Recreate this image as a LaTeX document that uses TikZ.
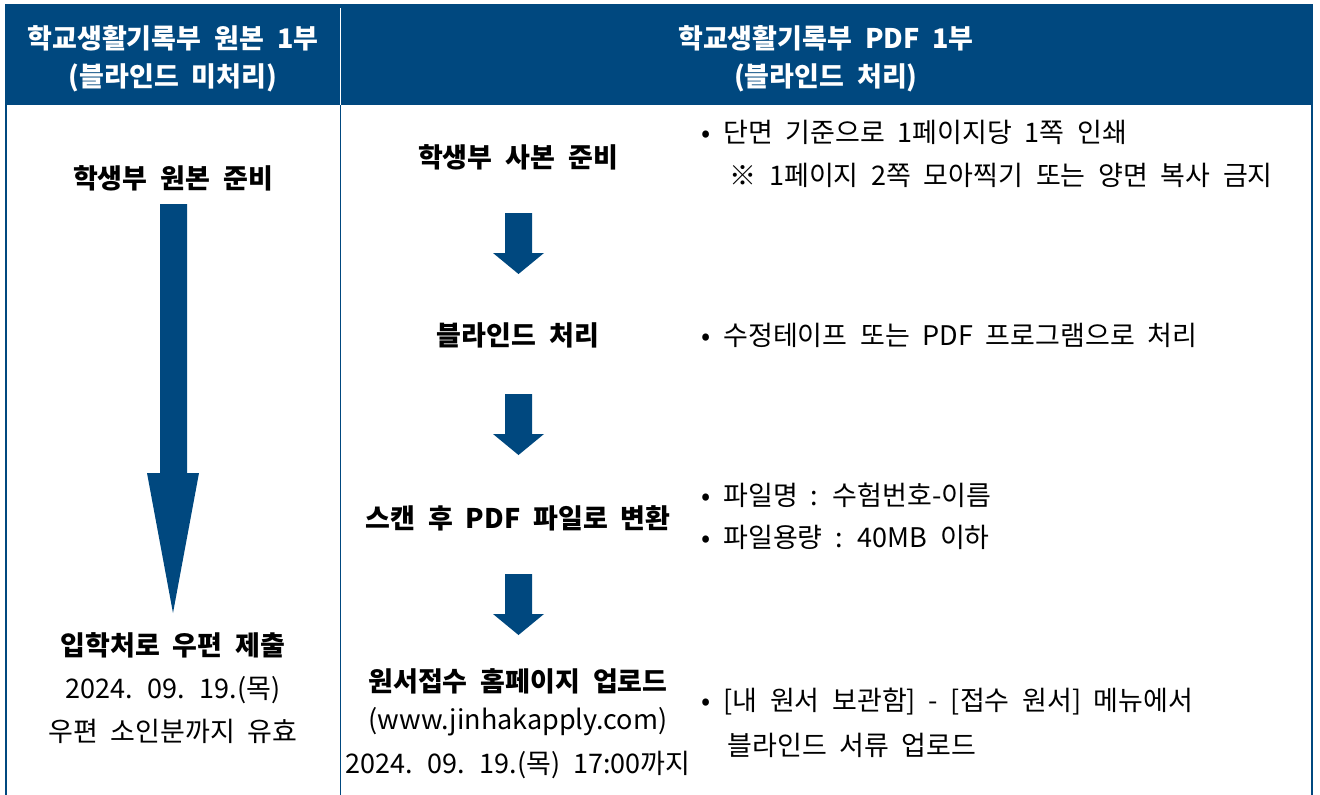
\documentclass[tikz,border=0pt]{standalone}
\usepackage{fontspec}
\setmainfont[WordSpace=2.1]{Noto Sans CJK KR}
\definecolor{hdrblue}{HTML}{00487F}

\begin{document}
\begin{tikzpicture}[x=1pt,y=-1pt,
    hdr/.style={text=white, font=\bfseries\fontsize{27}{32}\selectfont},
    stage/.style={font=\bfseries\fontsize{27}{32}\selectfont},
    plain/.style={font=\fontsize{27}{32}\selectfont},
    note/.style={anchor=west, font=\fontsize{27}{32}\selectfont}]
\useasboundingbox (0,0) rectangle (1320,795);
% header band and frame
\fill [hdrblue] (5,4) rectangle (1313,105);
\draw [white, line width=1pt] (340,8) -- (340,105);
\draw [hdrblue, line width=2pt] (6,105) -- (6,795);
\draw [hdrblue, line width=2pt] (1312,105) -- (1312,795);
\draw [hdrblue, line width=1pt] (340,105) -- (340,795);
% header texts
\node [hdr] (hdrL1) at (173,38) {학교생활기록부 원본 1부};
\node [hdr] (hdrL2) at (173,78) {(블라인드 미처리)};
\node [hdr] (hdrR1) at (826,38) {학교생활기록부 PDF 1부};
\node [hdr] (hdrR2) at (826,78) {(블라인드 처리)};
% left column: original
\node [stage] (orig) at (173,178) {학생부 원본 준비};
\fill [hdrblue] (160,204) -- (187,204) -- (187,473) -- (199,473) -- (173,613)
    -- (147,473) -- (160,473) -- cycle;
\node [stage] (mail) at (173,645) {입학처로 우편 제출};
\node [plain] (maildate) at (173,690) {2024. 09. 19.(목)};
\node [plain] (mailnote) at (173,731) {우편 소인분까지 유효};
% right column: PDF steps
\node [stage] (copy) at (518,157) {학생부 사본 준비};
\node [stage] (blind) at (518,335) {블라인드 처리};
\node [stage] (scan) at (518,518) {스캔 후 PDF 파일로 변환};
\node [stage] (upload) at (518,681) {원서접수 홈페이지 업로드};
\node [plain] (site) at (518,722) {(www.jinhakapply.com)};
\node [plain] (due) at (518,765) {2024. 09. 19.(목) 17:00까지};
\foreach \y in {213,394,574} {
    \fill [hdrblue] (505,\y) -- (532,\y) -- (532,\y+40) -- (544,\y+40)
        -- (518.5,\y+61) -- (493,\y+40) -- (505,\y+40) -- cycle;
}
% notes
\node [note] (n1) at (698,132) {• 단면 기준으로 1페이지당 1쪽 인쇄};
\node [note] (n1b) at (726,175) {※ 1페이지 2쪽 모아찍기 또는 양면 복사 금지};
\node [note] (n2) at (698,335) {• 수정테이프 또는 PDF 프로그램으로 처리};
\node [note] (n3) at (698,495) {• 파일명 : 수험번호-이름};
\node [note] (n3b) at (698,537) {• 파일용량 : 40MB 이하};
\node [note] (n4) at (698,702) {• [내 원서 보관함] - [접수 원서] 메뉴에서};
\node [note] (n4b) at (724,745) {블라인드 서류 업로드};
\end{tikzpicture}
\end{document}
